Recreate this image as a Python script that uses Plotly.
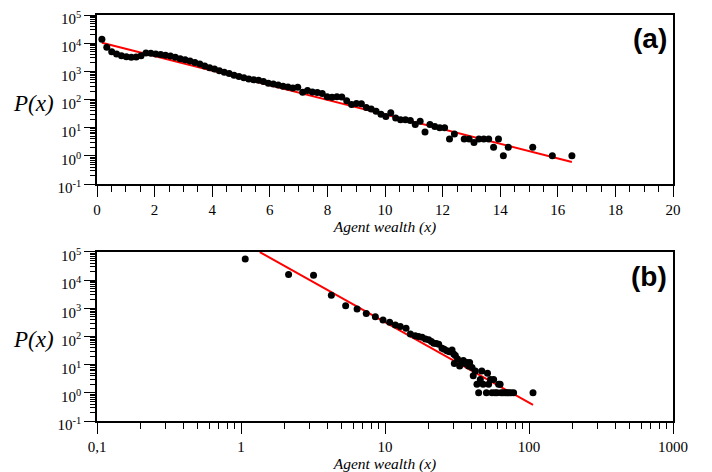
import plotly.graph_objects as go
from plotly.subplots import make_subplots
import numpy as np

# ---------------- data: panel (a) (linear x, log y) ----------------
wealth_a = [0.17, 0.34, 0.51, 0.68, 0.85, 1.02, 1.19, 1.36, 1.53, 1.70,
            1.87, 2.04, 2.21, 2.38, 2.55, 2.72, 2.89, 3.06, 3.23, 3.40,
            3.57, 3.74, 3.91, 4.08, 4.25, 4.42, 4.59, 4.76, 4.93, 5.10,
            5.27, 5.44, 5.61, 5.78, 5.95, 6.12, 6.29, 6.46, 6.63, 6.80,
            6.97, 7.14, 7.31, 7.48, 7.65, 7.82, 7.99, 8.16, 8.33, 8.50,
            8.67, 8.84, 9.01, 9.18, 9.35, 9.52, 9.69, 9.86, 10.03, 10.20,
            10.37, 10.54, 10.71, 10.88, 11.05, 11.22, 11.39, 11.56, 11.73, 11.90,
            12.07, 12.24, 12.41, 12.75, 12.92, 13.09, 13.26, 13.43, 13.60, 13.77,
            13.94, 14.11, 14.28, 15.13, 15.81, 16.49]
count_a = [13800, 7200, 5000, 4100, 3550, 3300, 3150, 3250, 3600, 4450,
           4350, 4150, 3980, 3700, 3470, 3160, 2820, 2570, 2340, 2040,
           1820, 1550, 1350, 1200, 1050, 930, 830, 720, 660, 590,
           540, 500, 480, 440, 380, 355, 330, 295, 280, 257,
           275, 182, 209, 186, 178, 162, 126, 120, 126, 123,
           91, 66, 72, 71, 52, 46, 38, 30, 25, 34,
           22, 19, 19, 18, 13, 17, 7, 13, 11, 10,
           10, 4, 6, 4, 4, 3, 4, 4, 4, 2,
           4, 1, 2, 2, 1, 1]
# exponential fit for (a): log10 P = fit_a_log10A - fit_a_slope * x
fit_a_log10A = 4.06
fit_a_slope = 0.2593
fit_a_xrange = [0.17, 16.49]

# ---------------- data: panel (b) (log x, log y) ----------------
wealth_b = [1.07, 2.14, 3.19, 4.24, 5.33, 6.4, 7.41, 8.57, 9.69, 10.77,
            11.8, 12.77, 14.0, 15.0, 16.2, 17.1, 18.1, 19.1, 20.1, 21.0,
            21.8, 22.7, 23.6, 24.9, 25.8, 26.9, 28.0, 29.2, 30.0, 30.3,
            30.8, 31.9, 33.0, 34.0, 35.0, 36.1, 37.0, 38.0, 38.7, 40.2,
            41.0, 42.4, 43.5, 44.7, 45.9, 47.0, 48.0, 50.6, 51.5, 52.4,
            54.0, 55.3, 56.8, 58.0, 60.0, 61.5, 63.0, 64.0, 66.0, 68.5,
            70.4, 72.2, 75.0, 78.2, 106.6]
count_b = [56000, 16000, 15000, 2900, 1240, 940, 660, 500, 385, 318,
           257, 225, 195, 123, 107, 100, 94, 82, 76, 66,
           58, 56, 53, 38, 35, 31, 29, 33, 24, 11,
           21, 16, 9, 13, 14, 11, 12, 9, 12, 8,
           4, 6, 2, 1, 3, 6, 2, 1, 5, 2,
           3, 1, 3, 1, 1, 2, 2, 1, 1, 1,
           1, 1, 1, 1, 1]
# power-law fit for (b): log10 P = fit_b_log10C - fit_b_exp * log10 x
fit_b_log10C = 5.369
fit_b_exp = 2.86
fit_b_xrange = [1.35, 106.6]

ytick_vals = [0.1, 1, 10, 100, 1000, 10000, 100000]
ytick_text = ["10<sup>-1</sup>", "10<sup>0</sup>", "10<sup>1</sup>", "10<sup>2</sup>",
              "10<sup>3</sup>", "10<sup>4</sup>", "10<sup>5</sup>"]
xb_tick_vals = [0.1, 1, 10, 100, 1000]
xb_tick_text = ["0,1", "1", "10", "100", "1000"]

# ---------------- figure ----------------
fig = make_subplots(rows=2, cols=1, vertical_spacing=0.0)

fa = np.linspace(fit_a_xrange[0], fit_a_xrange[1], 50)
fig.add_trace(go.Scatter(x=fa, y=10 ** (fit_a_log10A - fit_a_slope * fa), mode="lines",
                         line=dict(color="#ff0000", width=2), showlegend=False), row=1, col=1)
fig.add_trace(go.Scatter(x=wealth_a, y=count_a, mode="markers",
                         marker=dict(color="black", size=7), showlegend=False), row=1, col=1)

fb = np.logspace(np.log10(fit_b_xrange[0]), np.log10(fit_b_xrange[1]), 50)
fig.add_trace(go.Scatter(x=fb, y=10 ** (fit_b_log10C - fit_b_exp * np.log10(fb)), mode="lines",
                         line=dict(color="#ff0000", width=2), showlegend=False), row=2, col=1)
fig.add_trace(go.Scatter(x=wealth_b, y=count_b, mode="markers",
                         marker=dict(color="black", size=7), showlegend=False), row=2, col=1)

serif = "Liberation Serif"
tickfont = dict(family=serif, size=15, color="black")
titlefont = dict(family=serif, size=15.5, color="black")
minor_y = [m * 10.0 ** n for n in range(-1, 5) for m in range(2, 10)]
minor_xb = [m * 10.0 ** n for n in range(-1, 3) for m in range(2, 10)]

common_axis = dict(showline=True, linecolor="black", linewidth=1.5, mirror=True,
                   showgrid=False, zeroline=False, ticks="outside", tickcolor="black",
                   tickwidth=1, tickfont=tickfont, automargin=False,
                   ticklabeloverflow="allow")

# panel (a) axes
fig.update_xaxes(domain=[0, 1], range=[0, 20], tickmode="linear", tick0=0, dtick=2,
                 ticklen=11, minor=dict(ticks="outside", dtick=0.5, ticklen=6, tickcolor="black"),
                 title=dict(text="<i>Agent wealth (x)</i>", font=titlefont, standoff=2),
                 row=1, col=1, **common_axis)
fig.update_yaxes(domain=[0.5837, 1.0], type="log", range=[-1, 5], tickmode="array",
                 tickvals=ytick_vals, ticktext=ytick_text, ticklen=11, ticklabelshift=4,
                 minor=dict(ticks="outside", tickmode="array", tickvals=minor_y, ticklen=5,
                            tickcolor="black"),
                 row=1, col=1, **common_axis)
# panel (b) axes
fig.update_xaxes(domain=[0, 1], type="log", range=[-1, 3], tickmode="array",
                 tickvals=xb_tick_vals, ticktext=xb_tick_text, ticklen=11,
                 minor=dict(ticks="outside", tickmode="array", tickvals=minor_xb, ticklen=6,
                            tickcolor="black"),
                 title=dict(text="<i>Agent wealth (x)</i>", font=titlefont, standoff=2),
                 row=2, col=1, **common_axis)
fig.update_yaxes(domain=[0.0, 0.4163], type="log", range=[-1, 5], tickmode="array",
                 tickvals=ytick_vals, ticktext=ytick_text, ticklen=11, ticklabelshift=4,
                 minor=dict(ticks="outside", tickmode="array", tickvals=minor_y, ticklen=5,
                            tickcolor="black"),
                 row=2, col=1, **common_axis)

annotations = [
    dict(text="<i>P(x)</i>", x=-0.11, y=0.783, xref="paper", yref="paper", showarrow=False,
         font=dict(family=serif, size=23, color="black"), xanchor="center", yanchor="middle"),
    dict(text="<i>P(x)</i>", x=-0.11, y=0.2, xref="paper", yref="paper", showarrow=False,
         font=dict(family=serif, size=23, color="black"), xanchor="center", yanchor="middle"),
    dict(text="<b>(a)</b>", x=0.993, y=0.941, xref="paper", yref="paper", showarrow=False,
         font=dict(family="Liberation Sans", size=28, color="black"),
         xanchor="right", yanchor="middle"),
    dict(text="<b>(b)</b>", x=0.993, y=0.357, xref="paper", yref="paper", showarrow=False,
         font=dict(family="Liberation Sans", size=28, color="black"),
         xanchor="right", yanchor="middle"),
]

# margins compensate the page's 8px body offset
fig.update_layout(width=712, height=472, margin=dict(l=89, r=47, t=7, b=59, autoexpand=False),
                  paper_bgcolor="white", plot_bgcolor="white", annotations=annotations,
                  font=dict(family=serif, color="black"))

fig.write_html("out.html")
